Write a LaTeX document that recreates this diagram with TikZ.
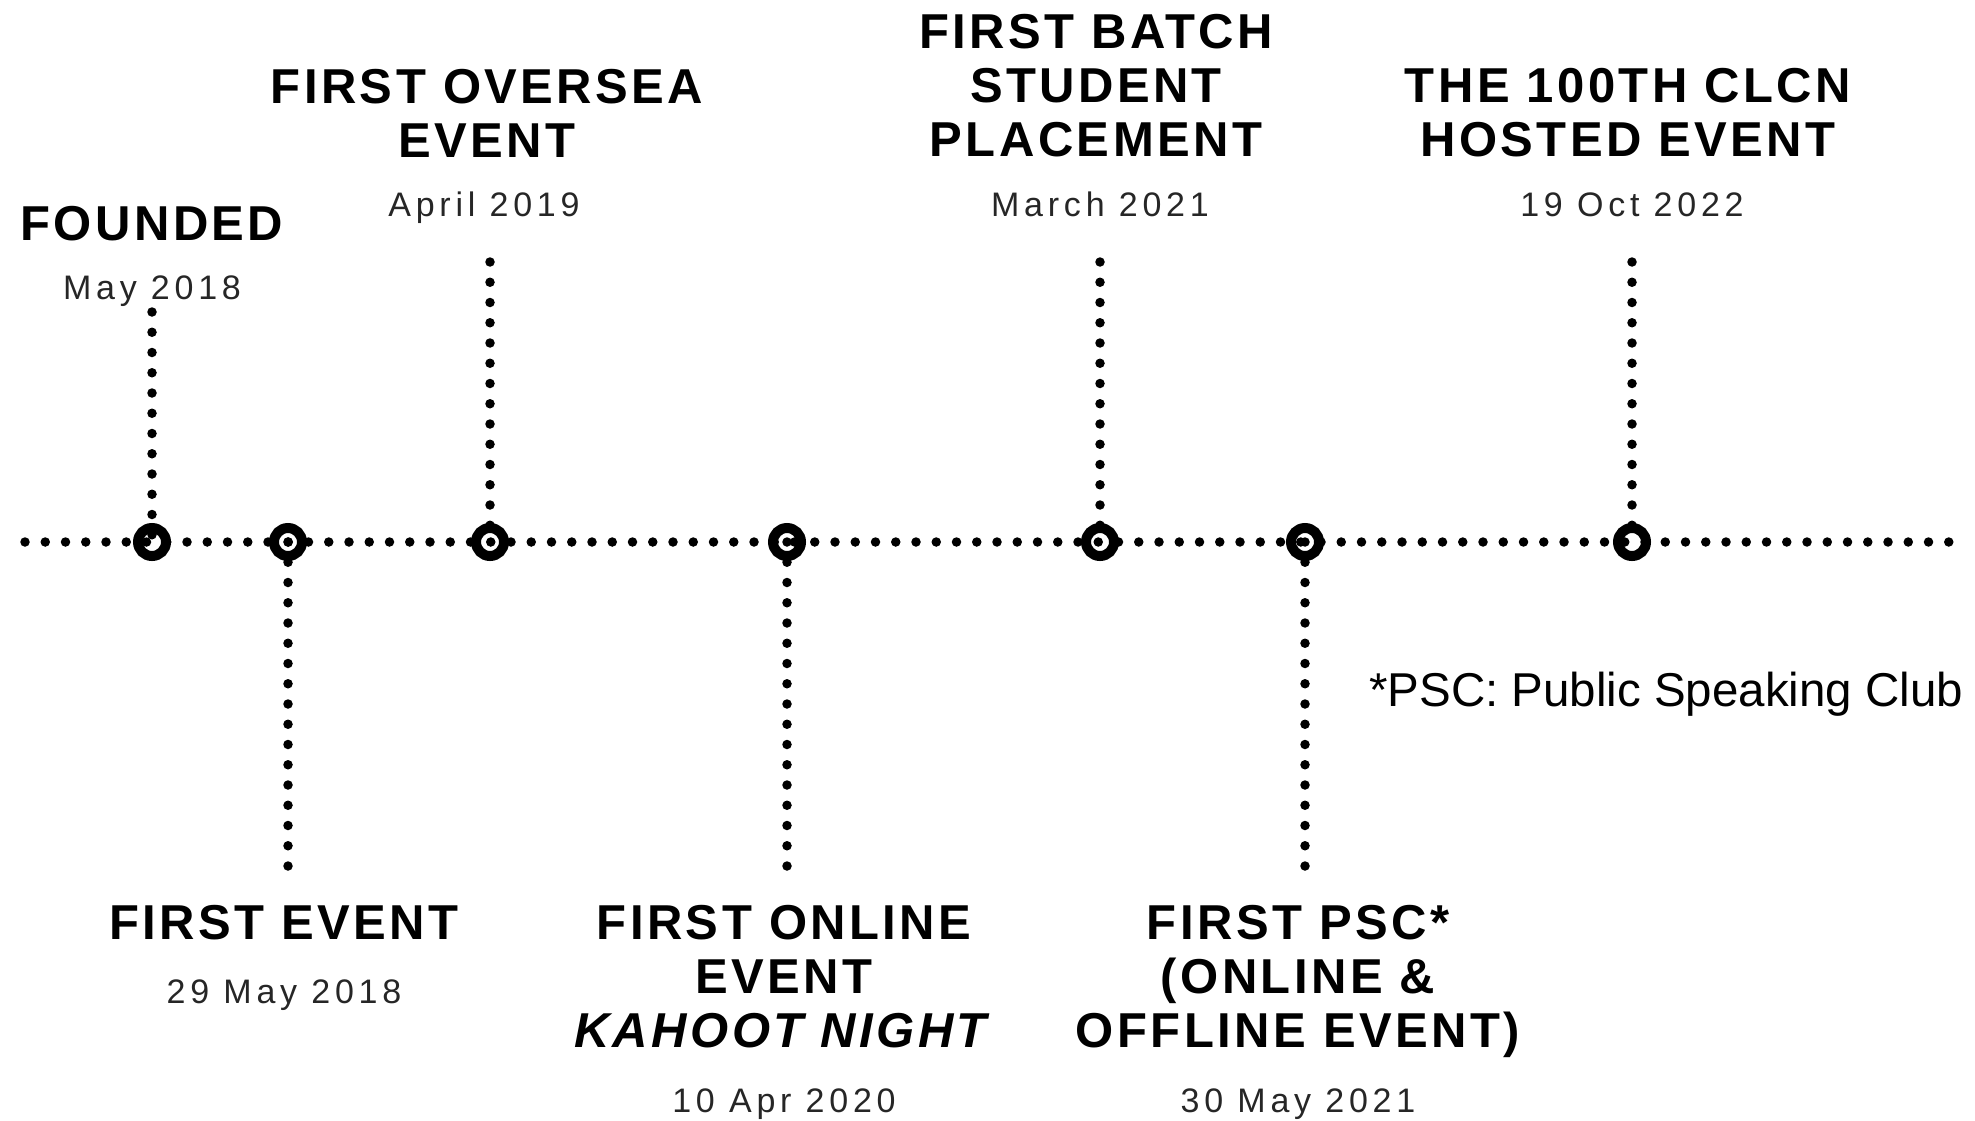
\documentclass[tikz,border=0pt]{standalone}
\usepackage{fontspec}
\setmainfont{Liberation Sans}
\newfontfamily\titlefont[LetterSpace=7]{Liberation Sans}
\newfontfamily\datefont[LetterSpace=14]{Liberation Sans}

\begin{document}
\begin{tikzpicture}[x=1pt,y=-1pt,
	ring/.style={circle, draw, line width=10pt, minimum size=28pt, inner sep=0pt},
	dots/.style={line width=9.5pt, line cap=round, dash pattern=on 0pt off 20.25pt},
	title/.style={align=center, inner sep=0pt, font=\titlefont\bfseries\fontsize{49}{54}\selectfont},
	date/.style={inner sep=0pt, text height=24pt, text depth=0pt, text=black!85, font=\datefont\fontsize{34}{38}\selectfont}]
	
	\useasboundingbox (0,0) rectangle (1975,1121);
	
     \coordinate (L) at (25,542);
      \coordinate (R) at (1952,542);
     \coordinate (A) at (152,542);
      \coordinate (B) at (288,542);
       \coordinate (C) at (490,542);
        \coordinate (D) at (787,542);
         \coordinate (E) at (1100,542);
          \coordinate (F) at (1305,542);
           \coordinate (G) at (1632,542);
           
      \coordinate (a) at (152,312);
      \coordinate (b) at (288,869);
      \coordinate (c) at (490,262);
      \coordinate (d) at (787,869);
      \coordinate (e) at (1100,262);
      \coordinate (f) at (1305,869);
      \coordinate (g) at (1632,262);
   
   % timeline and stems
    \draw[dots] (L) -- (R);
    \draw[dots] (a) -- (A);
    \draw[dots] (B) -- (b);
    \draw[dots] (c) -- (C);
    \draw[dots] (D) -- (d);
    \draw[dots] (e) -- (E);
    \draw[dots] (F) -- (f);
    \draw[dots] (g) -- (G);
    
    \node[ring] (rA) at (A) {};
    \node[ring] (rB) at (B) {};
    \node[ring] (rC) at (C) {};
    \node[ring] (rD) at (D) {};
    \node[ring] (rE) at (E) {};
    \node[ring] (rF) at (F) {};
    \node[ring] (rG) at (G) {};
    
   % labels above
    \node[title] (tA) at (152,224) {FOUNDED};
    \node[date] (dA) at (152,287) {May 2018};
    \node[title] (tC) at (487,113) {FIRST OVERSEA\\EVENT};
    \node[date] (dC) at (484,204) {April 2019};
    \node[title] (tE) at (1096,86) {FIRST BATCH\\STUDENT\\PLACEMENT};
    \node[date] (dE) at (1100,204) {March 2021};
    \node[title] (tG) at (1628,113) {THE 100TH CLCN\\HOSTED EVENT};
    \node[date] (dG) at (1632,204) {19 Oct 2022};
    
   % labels below
    \node[title] (tB) at (284,923) {FIRST EVENT};
    \node[date] (dB) at (284,991) {29 May 2018};
    \node[title] (tD) at (784,977) {FIRST ONLINE\\EVENT\\\textit{KAHOOT NIGHT}};
    \node[date] (dD) at (784,1100) {10 Apr 2020};
    \node[title] (tF) at (1298,981) {FIRST PSC*\\(ONLINE \&\\OFFLINE EVENT)};
    \node[date] (dF) at (1298,1100) {30 May 2021};
    
    \node[anchor=west, inner sep=0pt, font=\fontsize{47.5}{52}\selectfont] (note) at (1369,694) {*PSC: Public Speaking Club};
    
\end{tikzpicture}
\end{document}
